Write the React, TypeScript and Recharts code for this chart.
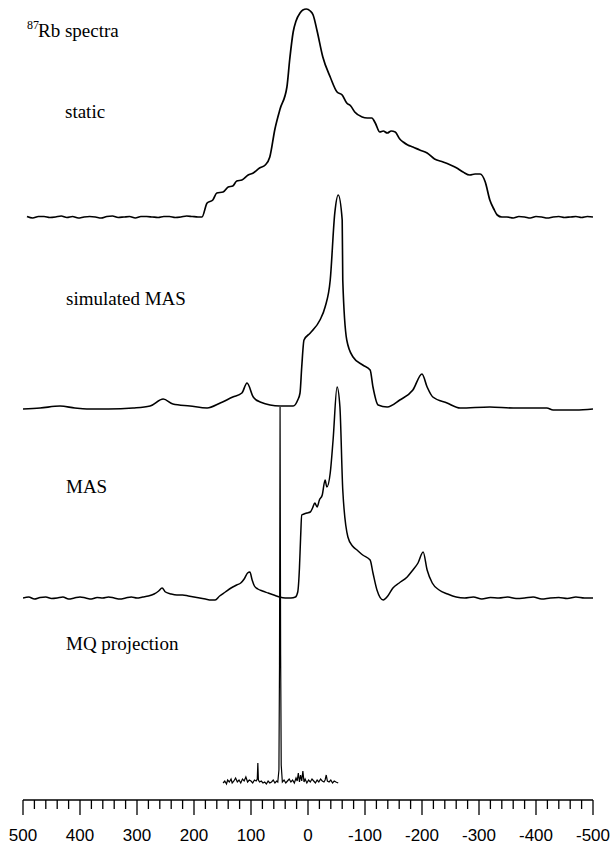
import React from "react";
import { LineChart, Line, XAxis, YAxis } from "recharts";

// x positions are chemical shift in ppm; values are intensity above each trace's own baseline
const STATIC_PPM = [493, 483, 473, 463, 453, 443, 433, 423, 413, 403, 393, 383, 373, 363, 353, 343, 333, 323, 313, 303, 293, 283, 273, 263, 253, 243, 233, 223, 213, 203, 193, 186, 177, 167, 160, 149, 140, 132, 125, 116, 105, 96, 85, 75, 67, 58, 49, 37, 32, 26, 21, 14, 9, 3, -4, -9, -16, -26, -39, -51, -60, -68, -75, -82, -95, -104, -112, -118, -126, -132, -139, -146, -153, -161, -167, -175, -184, -196, -209, -222, -237, -250, -261, -272, -284, -293, -302, -311, -319, -326, -332, -340, -349, -360, -370, -380, -390, -400, -410, -420, -430, -440, -450, -460, -470, -480, -490, -500];
const STATIC_VAL = [0.5, -1, 0.5, 0.5, -0.5, 0, 1, -0.5, 0.5, -1, 0, 0.5, 0, -1, 0.5, 1, -0.5, 0, 0.5, -1, 0.5, 0.5, 0, -0.5, 0.5, 0.5, -0.5, 0, 1, 0.5, 0, 0, 14, 17, 24, 25, 30, 31, 36, 37, 42, 44, 49, 52, 60, 88, 108, 130, 158, 185, 196, 204, 207, 208, 206, 202, 186, 160, 140, 125, 122, 114, 111, 105, 100, 99, 99, 94, 85, 86, 84, 86, 85, 78, 75, 72, 70, 67, 64, 58, 55, 52, 49, 45, 42, 43, 43, 35, 17, 8, 2, 0, 0, -1, 0.5, 0, -1, 0.5, 0, -1, 0, 0.5, -0.5, 0, 0.5, -0.5, 0.5, 0];

const SIM_PPM = [500, 470, 435, 409, 388, 350, 307, 277, 254, 237, 207, 177, 154, 132, 116, 107, 96, 84, 49, 26, 18, 14, 11, 7, -4, -21, -30, -39, -47, -53, -60, -61, -68, -79, -96, -109, -114, -123, -139, -161, -184, -200, -209, -219, -244, -267, -319, -360, -395, -419, -430, -470, -500];
const SIM_VAL = [0, 1, 3, 1, 0, 0, 1, 3, 10, 5, 3, 1, 6, 12, 16, 26, 12, 7, 3, 3, 9, 16, 42, 69, 76, 89, 102, 129, 196, 214, 189, 129, 69, 52, 44, 39, 22, 4, 2, 9, 19, 35, 22, 12, 6, 1, 2, 1, 1, 1, -1, -1, 0];

const MAS_PPM = [500, 490, 480, 470, 460, 450, 440, 430, 420, 410, 400, 390, 380, 370, 360, 350, 340, 330, 320, 310, 300, 290, 280, 270, 262, 256, 250, 240, 230, 220, 210, 200, 190, 180, 170, 163, 155, 145, 135, 125, 118, 112, 106, 102, 98, 94, 88, 80, 70, 60, 50, 40, 30, 22, 18, 15, 13, 11, 7, 2, -4, -8, -12, -16, -20, -25, -30, -33, -39, -44, -51, -56, -61, -70, -78, -86, -96, -109, -114, -121, -132, -140, -149, -160, -174, -184, -193, -202, -209, -218, -230, -245, -260, -275, -290, -305, -320, -335, -350, -365, -380, -395, -410, -425, -440, -455, -470, -485, -500];
const MAS_VAL = [0, 1, -1, 0.5, 1, -0.5, 0, 1, -1, 0, 1, 0, -1, 0.5, 0, 1, 0, -1, 0, 1, 0, 1, 2, 4, 7, 10, 6, 4, 3, 3, 2, 1, 0, -1, -2, -2, 2, 6, 10, 13, 15, 19, 25, 26, 18, 12, 9, 7, 5, 3, 1, 0, 0, 1, 6, 30, 60, 83, 84, 85, 86, 90, 95, 91, 98, 103, 118, 111, 125, 158, 211, 191, 108, 61, 52, 48, 43, 38, 25, 8, -2, 2, 10, 15, 21, 28, 35, 46, 28, 15, 8, 4, 1, 0, 1, -1, 0.5, 0, 1, -0.5, 0, 1, -1, 0, 0.5, -0.5, 1, 0, 0];

const MQ_PPM = [149, 146, 143, 141, 138, 135, 133, 130, 127, 124, 121, 118, 115, 112, 109, 106, 103, 100, 97, 94, 91, 89, 88, 87, 85, 82, 79, 76, 73, 70, 67, 64, 61, 58, 55, 53, 51, 50, 49, 48, 47, 45, 42, 39, 36, 33, 30, 27, 24, 21, 19, 17, 15, 13, 11, 9, 7, 5, 2, -1, -4, -7, -10, -13, -16, -19, -22, -25, -28, -30, -32, -34, -37, -40, -43, -46, -49, -53];
const MQ_VAL = [2, 4, 1, 5, 3, 6, 2, 4, 7, 3, 5, 2, 6, 4, 8, 3, 5, 4, 2, 5, 4, 6, 22, 5, 3, 4, 2, 3, 1, 4, 2, 3, 5, 2, 4, 3, 15, 120, 378, 130, 20, 3, 5, 2, 4, 6, 3, 5, 2, 7, 4, 12, 3, 10, 4, 14, 3, 6, 2, 5, 3, 6, 4, 2, 5, 3, 6, 4, 3, 5, 10, 4, 3, 5, 2, 4, 3, 2];

const TICKS = [500, 480, 460, 440, 420, 400, 380, 360, 340, 320, 300, 280, 260, 240, 220, 200, 180, 160, 140, 120, 100, 80, 60, 40, 20, 0, -20, -40, -60, -80, -100, -120, -140, -160, -180, -200, -220, -240, -260, -280, -300, -320, -340, -360, -380, -400, -420, -440, -460, -480, -500];

const build = (ppm: number[], vals: number[], base: number) =>
  ppm.map((p, i) => ({ ppm: p, v: base + vals[i] }));

const staticData = build(STATIC_PPM, STATIC_VAL, 583);
const simData = build(SIM_PPM, SIM_VAL, 391);
const masData = build(MAS_PPM, MAS_VAL, 202);
const mqData = build(MQ_PPM, MQ_VAL, 15);

const Tick = (props: any) => {
  const { x, y, payload } = props;
  const major = payload.value % 100 === 0;
  return (
    <g>
      <line x1={x} x2={x} y1={y} y2={y + (major ? 15 : 9)} stroke="#000" strokeWidth={1.3} />
      {major && (
        <text x={x} y={y + 41} textAnchor="middle" fontFamily="'Liberation Sans', Arial, sans-serif" fontSize={17} fill="#000">
          {payload.value}
        </text>
      )}
    </g>
  );
};

const serif = "'Liberation Serif', 'Times New Roman', serif";

export default function App() {
  return (
    <div style={{ position: "absolute", left: 0, top: 0, width: 616, height: 846, background: "#fff" }}>
      <LineChart width={616} height={846} data={staticData} margin={{ top: 0, right: 23, bottom: 0, left: 23 }}>
        <XAxis
          type="number"
          dataKey="ppm"
          domain={[-500, 500]}
          reversed
          ticks={TICKS}
          interval={0}
          tickLine={false}
          tickSize={0}
          tickMargin={0}
          tick={<Tick />}
          height={46}
          stroke="#000"
          strokeWidth={1.3}
          allowDataOverflow
        />
        <YAxis type="number" domain={[0, 800]} hide allowDataOverflow />
        <Line data={staticData} dataKey="v" type="monotone" dot={false} stroke="#000" strokeWidth={1.7} isAnimationActive={false} />
        <Line data={simData} dataKey="v" type="monotone" dot={false} stroke="#000" strokeWidth={1.6} isAnimationActive={false} />
        <Line data={masData} dataKey="v" type="monotone" dot={false} stroke="#000" strokeWidth={1.5} isAnimationActive={false} />
        <Line data={mqData} dataKey="v" type="linear" dot={false} stroke="#000" strokeWidth={1.2} isAnimationActive={false} />
        <text x={27} y={29} fontFamily={serif} fontSize={12} fill="#000">87</text>
        <text x={38} y={37} fontFamily={serif} fontSize={19} fill="#000">Rb spectra</text>
        <text x={65} y={118} fontFamily={serif} fontSize={19} fill="#000">static</text>
        <text x={66} y={305} fontFamily={serif} fontSize={19} fill="#000">simulated MAS</text>
        <text x={66} y={493} fontFamily={serif} fontSize={19} fill="#000">MAS</text>
        <text x={66} y={650} fontFamily={serif} fontSize={19} fill="#000">MQ projection</text>
      </LineChart>
    </div>
  );
}
